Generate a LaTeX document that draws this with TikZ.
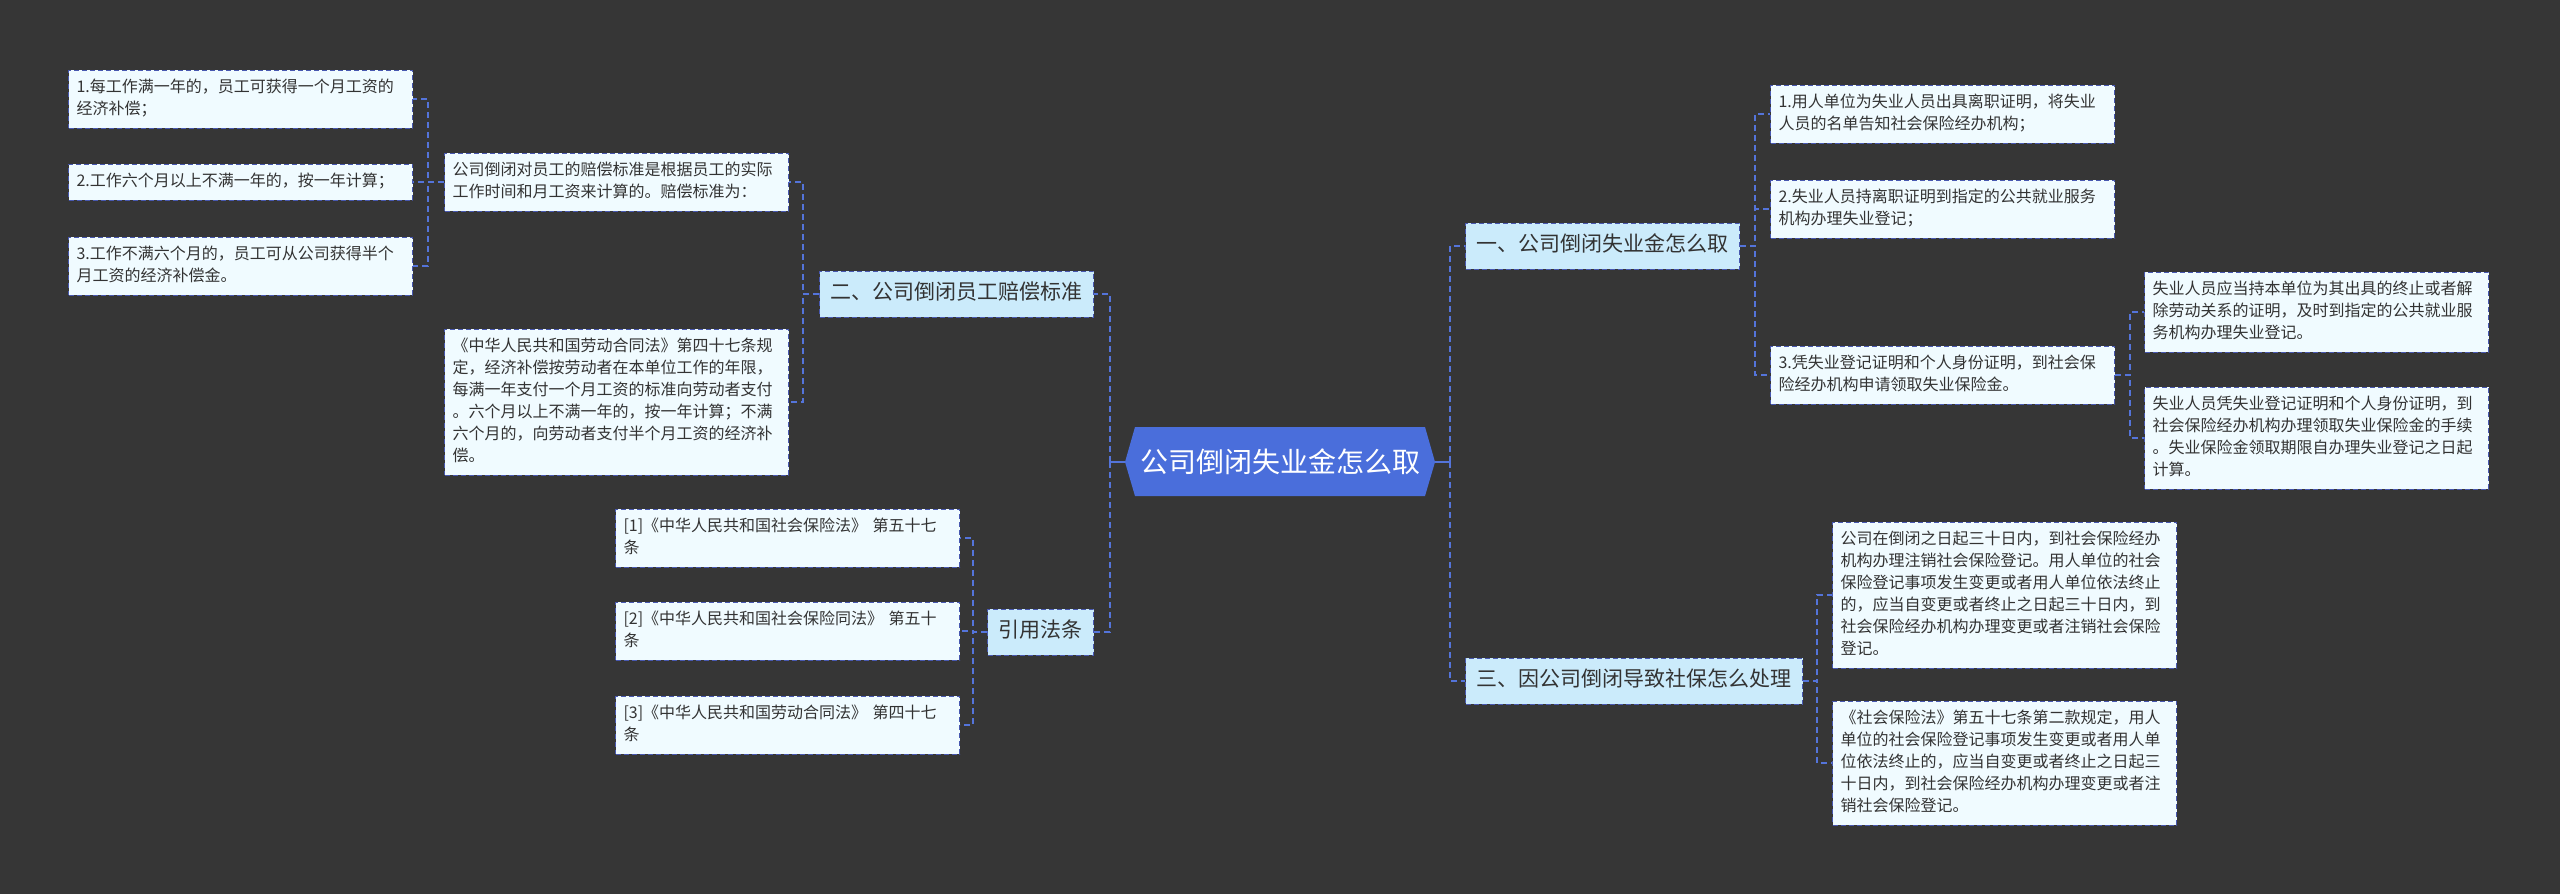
\documentclass[tikz,border=0pt]{standalone}
\usepackage{fontspec}
\setmainfont{Noto Sans CJK SC}
\definecolor{bgc}{HTML}{363636}
\definecolor{rootc}{HTML}{4A6EDB}
\definecolor{linec}{HTML}{5474DA}
\definecolor{edgec}{HTML}{4858B0}
\definecolor{lvonec}{HTML}{CBEBFB}
\definecolor{leafc}{HTML}{F0FBFF}
\definecolor{txtc}{HTML}{333333}
\begin{document}
\begin{tikzpicture}[x=1pt,y=-1pt,
  conn/.style={draw=linec,line width=1.8pt,dash pattern=on 6pt off 4pt},
  connsolid/.style={draw=linec,line width=1.8pt},
  leaf/.style={draw=edgec,line width=1pt,dash pattern=on 5pt off 3pt,fill=leafc,
    text=txtc,font=\fontsize{16}{22}\selectfont,align=left,text width=328pt,
    inner xsep=8pt,inner ysep=7pt,
    execute at begin node=\strut,execute at end node=\strut},
  lvone/.style={draw=edgec,line width=1pt,dash pattern=on 5pt off 3pt,fill=lvonec,
    text=txtc,font=\fontsize{21}{28}\selectfont,inner xsep=11pt,inner ysep=9pt,
    execute at begin node=\strut},
  rootbox/.style={text=white,font=\fontsize{28}{34}\selectfont,minimum width=310pt,
    minimum height=69pt,inner sep=0pt}
]
\useasboundingbox (0,0) rectangle (2560,894);
\fill[bgc] (0,0) rectangle (2560,894);

% root
\fill[rootc] (1135,427) -- (1425,427) -- (1435,462) -- (1425,496) -- (1135,496) -- (1125,462) -- cycle;
\node[rootbox] (root) at (1280,462) {公司倒闭失业金怎么取};

% level one
\node[lvone,anchor=west] (n1) at (1465,246) {一、公司倒闭失业金怎么取};
\node[lvone,anchor=east] (n2) at (1094,294) {二、公司倒闭员工赔偿标准};
\node[lvone,anchor=east] (nref) at (1094,632) {引用法条};
\node[lvone,anchor=west] (n3) at (1465,681) {三、因公司倒闭导致社保怎么处理};

% right leaves of n1
\node[leaf,anchor=west] (r1) at (1770,114) {1.用人单位为失业人员出具离职证明，将失业\\人员的名单告知社会保险经办机构；};
\node[leaf,anchor=west] (r2) at (1770,209) {2.失业人员持离职证明到指定的公共就业服务\\机构办理失业登记；};
\node[leaf,anchor=west] (r3) at (1770,375) {3.凭失业登记证明和个人身份证明，到社会保\\险经办机构申请领取失业保险金。};
\node[leaf,anchor=west] (r3a) at (2144,312) {失业人员应当持本单位为其出具的终止或者解\\除劳动关系的证明，及时到指定的公共就业服\\务机构办理失业登记。};
\node[leaf,anchor=west] (r3b) at (2144,438) {失业人员凭失业登记证明和个人身份证明，到\\社会保险经办机构办理领取失业保险金的手续\\。失业保险金领取期限自办理失业登记之日起\\计算。};

% leaves of n3
\node[leaf,anchor=west] (s1) at (1832,595) {公司在倒闭之日起三十日内，到社会保险经办\\机构办理注销社会保险登记。用人单位的社会\\保险登记事项发生变更或者用人单位依法终止\\的，应当自变更或者终止之日起三十日内，到\\社会保险经办机构办理变更或者注销社会保险\\登记。};
\node[leaf,anchor=west] (s2) at (1832,763) {《社会保险法》第五十七条第二款规定，用人\\单位的社会保险登记事项发生变更或者用人单\\位依法终止的，应当自变更或者终止之日起三\\十日内，到社会保险经办机构办理变更或者注\\销社会保险登记。};

% leaves of n2
\node[leaf,anchor=east] (a) at (789,182) {公司倒闭对员工的赔偿标准是根据员工的实际\\工作时间和月工资来计算的。赔偿标准为：};
\node[leaf,anchor=east] (b) at (789,402) {《中华人民共和国劳动合同法》第四十七条规\\定，经济补偿按劳动者在本单位工作的年限，\\每满一年支付一个月工资的标准向劳动者支付\\。六个月以上不满一年的，按一年计算；不满\\六个月的，向劳动者支付半个月工资的经济补\\偿。};
\node[leaf,anchor=east] (a1) at (413,99) {1.每工作满一年的，员工可获得一个月工资的\\经济补偿；};
\node[leaf,anchor=east] (a2) at (413,182) {2.工作六个月以上不满一年的，按一年计算；};
\node[leaf,anchor=east] (a3) at (413,266) {3.工作不满六个月的，员工可从公司获得半个\\月工资的经济补偿金。};

% refs
\node[leaf,anchor=east] (f1) at (960,538) {[1]《中华人民共和国社会保险法》 第五十七\\条};
\node[leaf,anchor=east] (f2) at (960,631) {[2]《中华人民共和国社会保险同法》 第五十\\条};
\node[leaf,anchor=east] (f3) at (960,725) {[3]《中华人民共和国劳动合同法》 第四十七\\条};

% connectors from root
\coordinate (rl) at (1110,462);
\coordinate (rr) at (1450,462);
\draw[connsolid] (root.west) -- (rl);
\draw[connsolid] (root.east) -- (rr);
\draw[connsolid] (rl) ++(0,-5) -- ++(0,10);
\draw[connsolid] (rr) ++(0,-5) -- ++(0,10);
\draw[conn] (rl) |- (n2.east);
\draw[conn] (rl) |- (nref.east);
\draw[conn] (rr) |- (n1.west);
\draw[conn] (rr) |- (n3.west);

% n1 children
\draw[conn] (n1.east) -- ++(15,0) |- (r1.west);
\draw[conn] (n1.east) -- ++(15,0) |- (r2.west);
\draw[conn] (n1.east) -- ++(15,0) |- (r3.west);
\draw[conn] (r3.east) -- ++(15,0) |- (r3a.west);
\draw[conn] (r3.east) -- ++(15,0) |- (r3b.west);
% n3 children
\draw[conn] (n3.east) -- ++(14,0) |- (s1.west);
\draw[conn] (n3.east) -- ++(14,0) |- (s2.west);
% n2 children
\draw[conn] (n2.west) -- ++(-16,0) |- (a.east);
\draw[conn] (n2.west) -- ++(-16,0) |- (b.east);
\draw[conn] (a.west) -- ++(-16,0) |- (a1.east);
\draw[conn] (a.west) -- ++(-16,0) |- (a2.east);
\draw[conn] (a.west) -- ++(-16,0) |- (a3.east);
% ref children
\draw[conn] (nref.west) -- ++(-14,0) |- (f1.east);
\draw[conn] (nref.west) -- ++(-14,0) |- (f2.east);
\draw[conn] (nref.west) -- ++(-14,0) |- (f3.east);
\end{tikzpicture}
\end{document}
